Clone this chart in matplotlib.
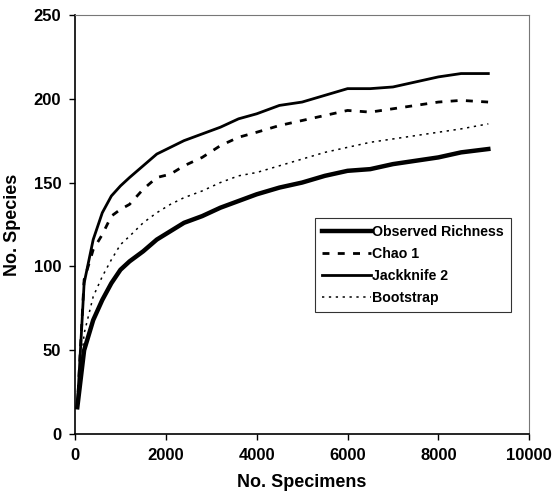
import numpy as np
import matplotlib
matplotlib.use("Agg")
import matplotlib.pyplot as plt

# specimens sampled
specimens = [50, 200, 400, 600, 800, 1000, 1200, 1500, 1800, 2100, 2400, 2800,
             3200, 3600, 4000, 4500, 5000, 5500, 6000, 6500, 7000, 7500, 8000, 8500, 9100]

observed = [16, 50, 68, 80, 90, 98, 103, 109, 116, 121, 126, 130,
            135, 139, 143, 147, 150, 154, 157, 158, 161, 163, 165, 168, 170]
chao1 = [16, 92, 110, 119, 130, 134, 137, 146, 153, 155, 160, 165,
         172, 177, 180, 184, 187, 190, 193, 192, 194, 196, 198, 199, 198]
jackknife2 = [16, 90, 116, 132, 142, 148, 153, 160, 167, 171, 175, 179,
              183, 188, 191, 196, 198, 202, 206, 206, 207, 210, 213, 215, 215]
bootstrap = [16, 60, 82, 94, 104, 113, 118, 126, 132, 137, 141, 145,
             150, 154, 156, 160, 164, 168, 171, 174, 176, 178, 180, 182, 185]

plt.rcParams['font.family'] = ['Liberation Sans', 'DejaVu Sans']
plt.rcParams['font.weight'] = 'bold'

fig = plt.figure(figsize=(5.6, 4.95), dpi=100)
ax = fig.add_axes([0.134, 0.123, 0.811, 0.847])

ax.plot(specimens, observed, color='black', lw=3.2, label='Observed Richness')
ax.plot(specimens, chao1, color='black', lw=2.0, dashes=(2.5, 3), label='Chao 1')
ax.plot(specimens, jackknife2, color='black', lw=2.0, label='Jackknife 2')
ax.plot(specimens, bootstrap, color='black', lw=1.1, dashes=(1.5, 3), label='Bootstrap')

ax.set_xlim(0, 10000)
ax.set_ylim(0, 250)
ax.set_xticks(np.arange(0, 10001, 2000))
ax.set_yticks(np.arange(0, 251, 50))
ax.tick_params(direction='out', length=4, width=1, labelsize=12, pad=6)
for lab in ax.get_xticklabels() + ax.get_yticklabels():
    lab.set_fontweight('bold')

ax.set_xlabel('No. Specimens', fontsize=13, fontweight='bold', labelpad=8)
ax.set_ylabel('No. Species', fontsize=13, fontweight='bold', labelpad=9)

ax.spines['left'].set_linewidth(1.2)
ax.spines['bottom'].set_linewidth(1.2)
for s in ['top', 'right']:
    ax.spines[s].set_color('#777777')
    ax.spines[s].set_linewidth(0.8)

leg = ax.legend(loc='upper left', bbox_to_anchor=(0.529, 0.515),
                handlelength=3.4, handletextpad=0.1, labelspacing=0.55,
                borderpad=0.5, borderaxespad=0, fancybox=False, frameon=True,
                prop={'weight': 'bold', 'size': 10.2})
leg.get_frame().set_edgecolor('black')
leg.get_frame().set_linewidth(0.8)

fig.savefig('out.png', dpi=100)
